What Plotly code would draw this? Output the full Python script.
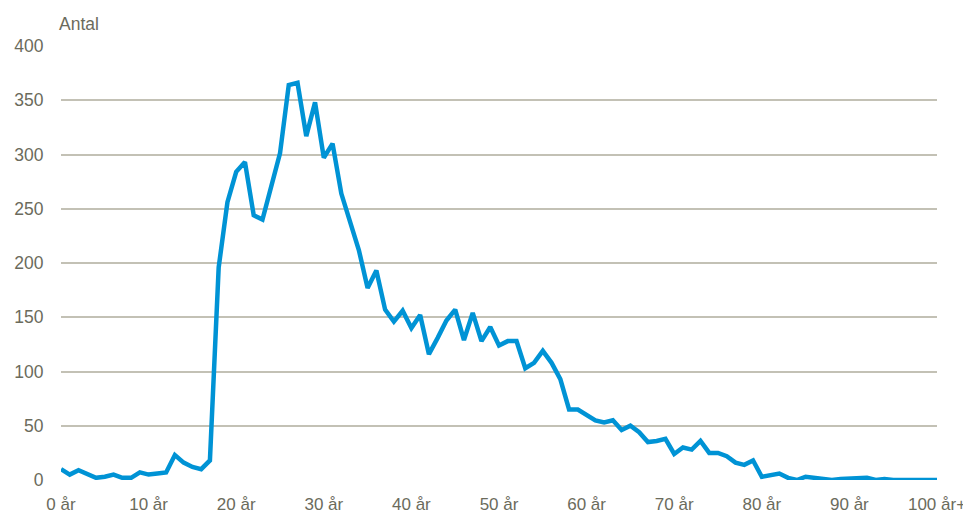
import plotly.graph_objects as go

ages = list(range(0, 101))
antal = [10, 5, 9, 5, 2, 3, 5, 2, 2, 7,
         5, 6, 7, 23, 16, 12, 10, 18, 196, 256,
         284, 293, 244, 240, 270, 301, 364, 366, 317, 348,
         297, 310, 264, 239, 212, 177, 193, 157, 146, 156,
         140, 152, 116, 131, 147, 157, 129, 154, 128, 141,
         124, 128, 128, 103, 108, 119, 108, 93, 65, 65,
         60, 55, 53, 55, 46, 50, 44, 35, 36, 38,
         24, 30, 28, 36, 25, 25, 22, 16, 14, 18,
         3, 4, 6, 2, 0, 3, 2, 1, 0, 1,
         1, 1, 2, 0, 1, 0, 0, 0, 0, 0, 0]
tick_vals = [0, 10, 20, 30, 40, 50, 60, 70, 80, 90, 100]
tick_text = ["0 år", "10 år", "20 år", "30 år", "40 år", "50 år", "60 år",
             "70 år", "80 år", "90 år", "100 år+"]
y_ticks = [0, 50, 100, 150, 200, 250, 300, 350, 400]

txt = "#6b6b5c"
grid = "#c3c1b5"
fnt = "Liberation Sans, Arial, sans-serif"
fs = 17.5

fig = go.Figure(go.Scatter(x=ages, y=antal, mode="lines",
                           line=dict(color="#0093d5", width=4.5),
                           hoverinfo="x+y"))
# page body has an 8px default margin, so the figure is drawn at (8, 8)
fig.update_layout(
    width=963, height=506,
    margin=dict(l=53, r=34, t=38, b=34),
    paper_bgcolor="white", plot_bgcolor="white",
    showlegend=False,
    font=dict(family=fnt, size=fs, color=txt),
    annotations=[dict(text="Antal", x=0, xref="paper", xanchor="left",
                      xshift=-4,
                      y=1, yref="paper", yanchor="bottom", yshift=10,
                      showarrow=False, font=dict(family=fnt, size=fs, color=txt))],
)
fig.update_xaxes(range=[0, 100], tickvals=tick_vals, ticktext=tick_text,
                 showgrid=False, zeroline=False, showline=False, automargin=False,
                 ticks="outside", ticklen=9, tickcolor="rgba(0,0,0,0)",
                 tickfont=dict(family=fnt, size=17, color=txt))
fig.update_yaxes(range=[0, 400], tickvals=y_ticks, showgrid=True, automargin=False,
                 gridcolor=grid, gridwidth=1.5, zeroline=False, showline=False,
                 ticks="outside", ticklen=13, tickcolor="rgba(0,0,0,0)",
                 tickfont=dict(family=fnt, size=fs, color=txt))
fig.write_html("out.html")
